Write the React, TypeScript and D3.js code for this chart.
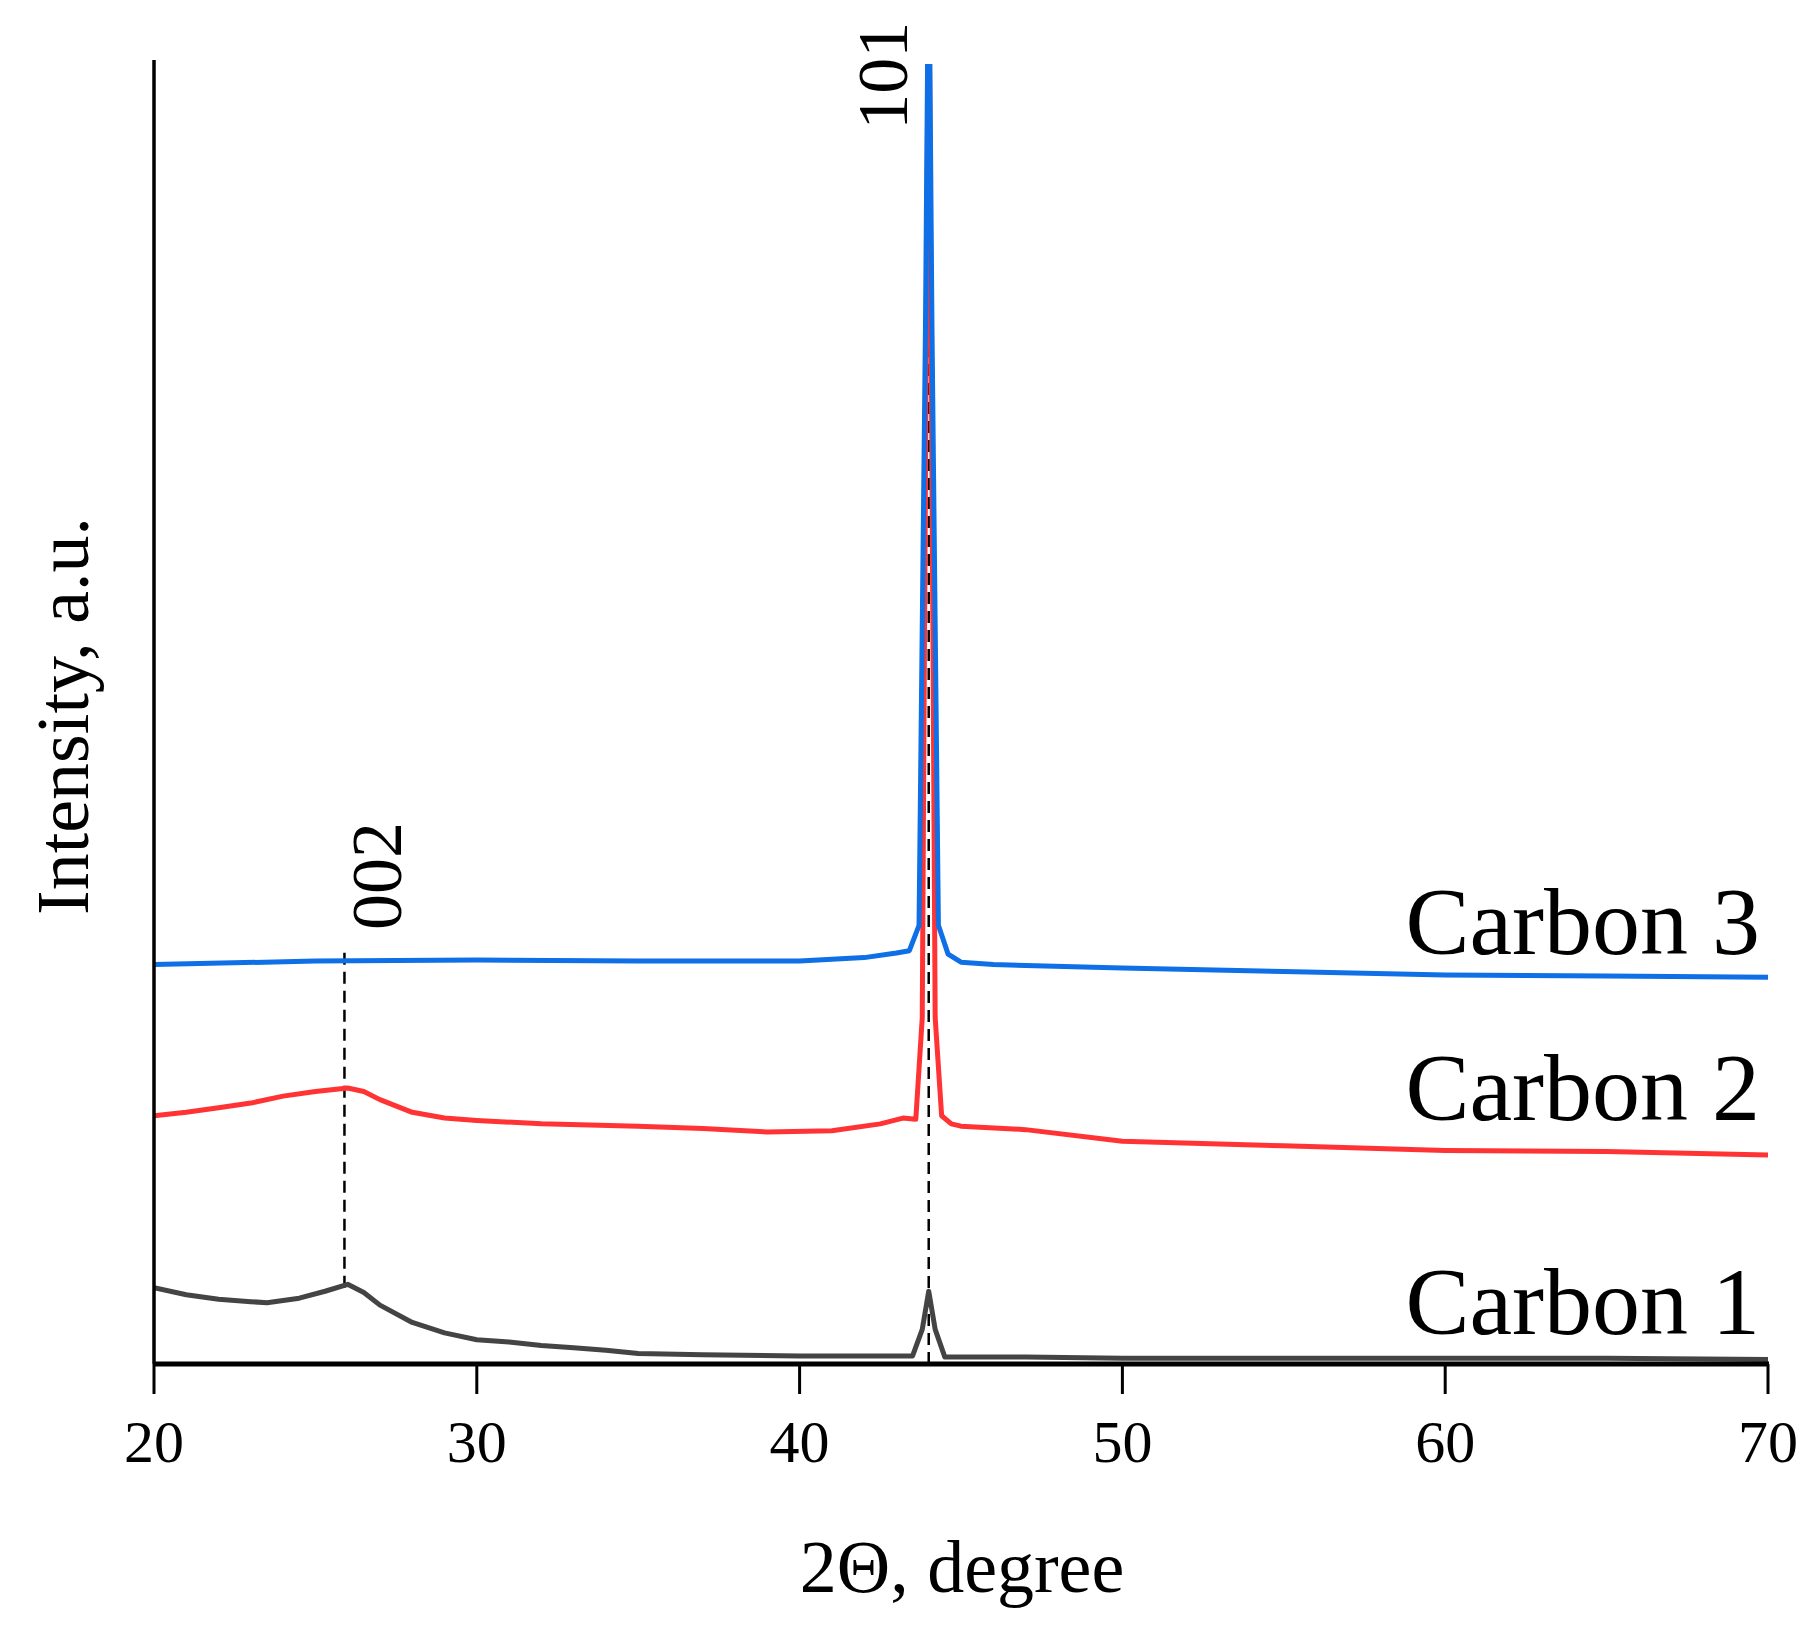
import * as d3 from 'd3';
import * as React from 'react';

// 2θ positions (degree) and intensities (a.u., stacked offsets included)
const carbon1X = [20, 21, 22, 23, 23.5, 24.5, 25.3, 26, 26.5, 27, 28, 29, 30, 31, 32, 33, 34, 35, 37, 40, 43.5, 43.8, 44, 44.2, 44.5, 47, 50, 55, 60, 65, 70];
const carbon1Y = [66, 60, 56, 54, 53, 57, 63, 69, 62, 51, 36, 27, 21, 19, 16, 14, 12, 9, 8, 7, 7, 30, 63, 30, 6, 6, 5, 5, 5, 5, 4];
const carbon2X = [20, 21, 22, 23, 24, 25, 26, 26.5, 27, 28, 29, 30, 32, 35, 37, 39, 41, 42.5, 43.2, 43.6, 43.8, 44, 44.2, 44.4, 44.7, 45, 47, 50, 55, 60, 65, 70];
const carbon2Y = [215, 218, 222, 226, 232, 236, 239, 236, 229, 218, 213, 211, 208, 206, 204, 201, 202, 208, 213, 212, 300, 1250, 300, 215, 208, 206, 203, 193, 189, 185, 184, 181];
const carbon3X = [20, 25, 30, 35, 40, 42, 43, 43.4, 43.7, 43.9, 44, 44.1, 44.3, 44.6, 45, 46, 50, 55, 60, 65, 70];
const carbon3Y = [346, 349, 350, 349, 349, 352, 356, 358, 380, 900, 1250, 900, 380, 355, 348, 346, 343, 340, 337, 336, 335];
const seriesNames = ['Carbon 1', 'Carbon 2', 'Carbon 3'];
const seriesColors = ['#444444', '#ff3333', '#0f6fe6'];
const labelLevels = [26, 211, 355];
const xTicks = [20, 30, 40, 50, 60, 70];
const peakMarks = [
  { x: 25.9, from: 66, to: 361, label: '002', dx: 57, textAt: 376 },
  { x: 44, from: 0, to: 1126, label: '101', dx: -22, textAt: 1069 },
];

const W = 1811;
const H = 1637;
const left = 154;
const right = 1768;
const top = 64;
const bottom = 1364;

const App: React.FC = () => {
  const x = d3.scaleLinear().domain([20, 70]).range([left, right]);
  const y = d3.scaleLinear().domain([0, 1126]).range([bottom, top]);
  const line = d3.line<[number, number]>().x(d => x(d[0])).y(d => y(d[1]));
  const series = [
    d3.zip(carbon1X, carbon1Y) as [number, number][],
    d3.zip(carbon2X, carbon2Y) as [number, number][],
    d3.zip(carbon3X, carbon3Y) as [number, number][],
  ];
  const font = 'Times New Roman, Liberation Serif, serif';

  return (
    <svg width={W} height={H} style={{ display: 'block', background: '#fff', position: 'absolute', left: 0, top: 0 }} fontFamily={font}>
      <defs>
        <clipPath id='plot'>
          <rect x={left} y={top} width={right - left + 4} height={bottom - top} />
        </clipPath>
      </defs>
      {peakMarks.map(p => (
        <g key={p.label}>
          <line x1={x(p.x)} x2={x(p.x)} y1={y(p.from)} y2={y(p.to)}
            stroke='#000' strokeWidth={2.5} strokeDasharray='12,7' />
          <text transform={`translate(${x(p.x) + p.dx},${y(p.textAt)}) rotate(-90)`}
            fontSize={72} textAnchor='start'>{p.label}</text>
        </g>
      ))}
      <g clipPath='url(#plot)'>
        {series.map((s, i) => (
          <path key={i} d={line(s) ?? ''} fill='none' stroke={seriesColors[i]} strokeWidth={5} strokeLinejoin='round' />
        ))}
      </g>
      {seriesNames.map((n, i) => (
        <text key={n} x={1760} y={y(labelLevels[i])} fontSize={96} textAnchor='end'>{n}</text>
      ))}
      <line x1={left} x2={left} y1={top - 4} y2={bottom} stroke='#000' strokeWidth={3.5} />
      <line x1={left - 1} x2={right + 1} y1={bottom} y2={bottom} stroke='#000' strokeWidth={5} />
      {xTicks.map(t => (
        <g key={t}>
          <line x1={x(t)} x2={x(t)} y1={bottom} y2={bottom + 30} stroke='#000' strokeWidth={3} />
          <text x={x(t)} y={1462} fontSize={60} textAnchor='middle'>{t}</text>
        </g>
      ))}
      <text x={962} y={1592} fontSize={74} textAnchor='middle'>2Θ, degree</text>
      <text transform='translate(88,716) rotate(-90)' fontSize={74} textAnchor='middle'>Intensity, a.u.</text>
    </svg>
  );
};

export default App;
